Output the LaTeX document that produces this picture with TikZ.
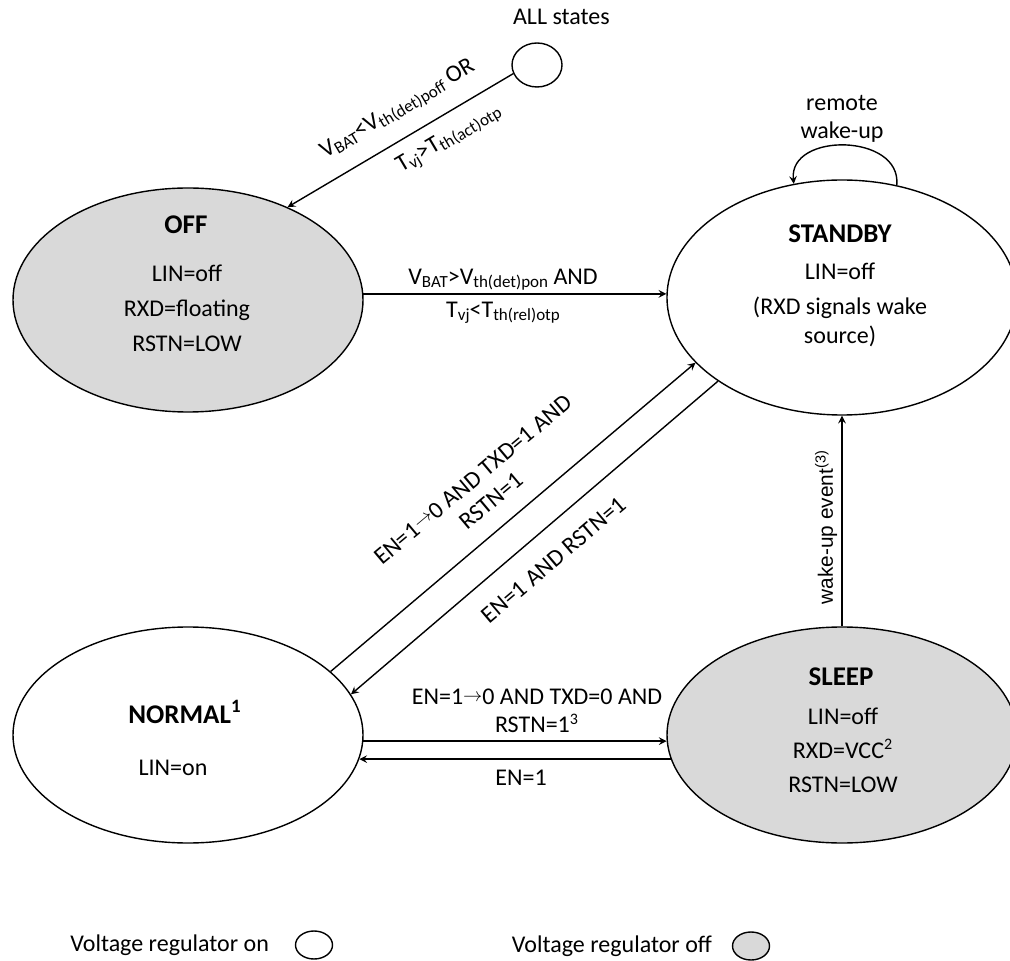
\documentclass[tikz,border=0pt]{standalone}
\usepackage{fontspec}
\setmainfont{Carlito}
\newfontfamily\arialfont{Liberation Sans}
\usetikzlibrary{shapes.geometric, arrows}
\definecolor{offgray}{RGB}{217,217,217}
\tikzstyle{stateon} = [ellipse, 
draw=black, 
line width=0.7pt, 
fill=white, 
minimum width=175pt, 
minimum height=108pt, 
inner sep=0pt]
\tikzstyle{stateoff} = [stateon, fill=offgray]
\tikzstyle{legend} = [ellipse, draw=black, line width=0.7pt, 
minimum width=18.5pt, minimum height=14pt, inner sep=0pt]
\tikzstyle{title} = [font=\bfseries\fontsize{13.5}{16}\selectfont]
\tikzstyle{body} = [align=center, font=\fontsize{12}{17.5}\selectfont]
\tikzstyle{cond} = [align=center, font=\fontsize{12}{14}\selectfont]
\tikzstyle{arrow} = [line width=0.7pt,->,>=stealth]
\newcommand{\shortto}{\raisebox{0.3ex}{\scalebox{0.8}{$\rightarrow$}}}
\newcommand{\idx}[1]{\raisebox{-0.25ex}{\fontsize{8.5}{9}\selectfont #1}}

\begin{document}
\begin{tikzpicture}[x=0.5pt, y=-0.5pt]
\useasboundingbox (0,0) rectangle (1010,961);

\node (all) [legend, minimum width=25pt, minimum height=22pt] at (537,65) {};
\node (alllbl) [cond, anchor=west] at (506,17) {ALL states};

\node (off) [stateoff, minimum height=112pt] at (188,300) {};
\node (offttl) [title] at (186,225) {OFF};
\node (offtxt) [body] at (187,308) {LIN=off\\RXD=floating\\RSTN=LOW};

\node (standby) [stateon, minimum height=117.5pt] at (842,297.5) {};
\node (standbyttl) [title] at (840,234) {STANDBY};
\node (standbytxt) [body] at (840,305) {LIN=off\\(RXD signals wake\\[-3pt]source)};

\node (normal) [stateon] at (188,735) {};
\node (normalttl) [title] at (185,712) {NORMAL\textsuperscript{1}};
\node (normaltxt) [body] at (173,768) {LIN=on};

\node (sleep) [stateoff] at (842,735) {};
\node (sleepttl) [title] at (841,677) {SLEEP};
\node (sleeptxt) [body] at (843,750) {LIN=off\\[-0.5pt]RXD=VCC\textsuperscript{2}\\[-0.5pt]RSTN=LOW};

\node (legon) [cond, anchor=east] at (276,945) {Voltage regulator on};
\node (legoncirc) [legend] at (314,945) {};
\node (legoff) [cond, anchor=east] at (719,946) {Voltage regulator off};
\node (legoffcirc) [legend, fill=offgray] at (751,946) {};

\draw [arrow] (all.200) -- (off.43);
\node (poff) [cond, rotate=30.7] at (398,110) {V\idx{BAT}<V\idx{th(det)poff} OR};
\node (otp) [cond, rotate=30.7] at (449,139) {T\idx{vj}>T\idx{th(act)otp}};

\draw [arrow] (off.2.3) -- (off.2.3 -| standby.west);
\node (pon) [cond] at (503,280) {V\idx{BAT}>V\idx{th(det)pon} AND};
\node (rel) [cond] at (503,313) {T\idx{vj}<T\idx{th(rel)otp}};

\draw [arrow] (standby.64) .. controls +(5,-52) and +(-5,-52) .. (standby.113);
\node (remote) [cond] at (842,119) {remote\\wake-up};

\draw [arrow] (normal.24) -- (standby.204.5);
\node (gostandby) [cond, rotate=40] at (482,490) {EN=1\shortto 0 AND TXD=1 AND\\RSTN=1};
\draw [arrow] (standby.214) -- (normal.14);
\node (gonormal) [cond, rotate=40.3] at (554,560) {EN=1 AND RSTN=1};

\draw [arrow] (normal.-2.3) -- (sleep.182.3);
\node (gosleep) [cond] at (537,711) {EN=1\shortto 0 AND TXD=0 AND\\RSTN=1\textsuperscript{3}};
\draw [arrow] (sleep.188.4) -- (normal.-8.4);
\node (en) [cond] at (521,778) {EN=1};

\draw [arrow] (sleep.north) -- (standby.south);
\node (wake) [rotate=90, font=\arialfont\fontsize{10.4}{12}\selectfont] at (826,527) {wake-up event\textsuperscript{(3)}};

\end{tikzpicture}
\end{document}
